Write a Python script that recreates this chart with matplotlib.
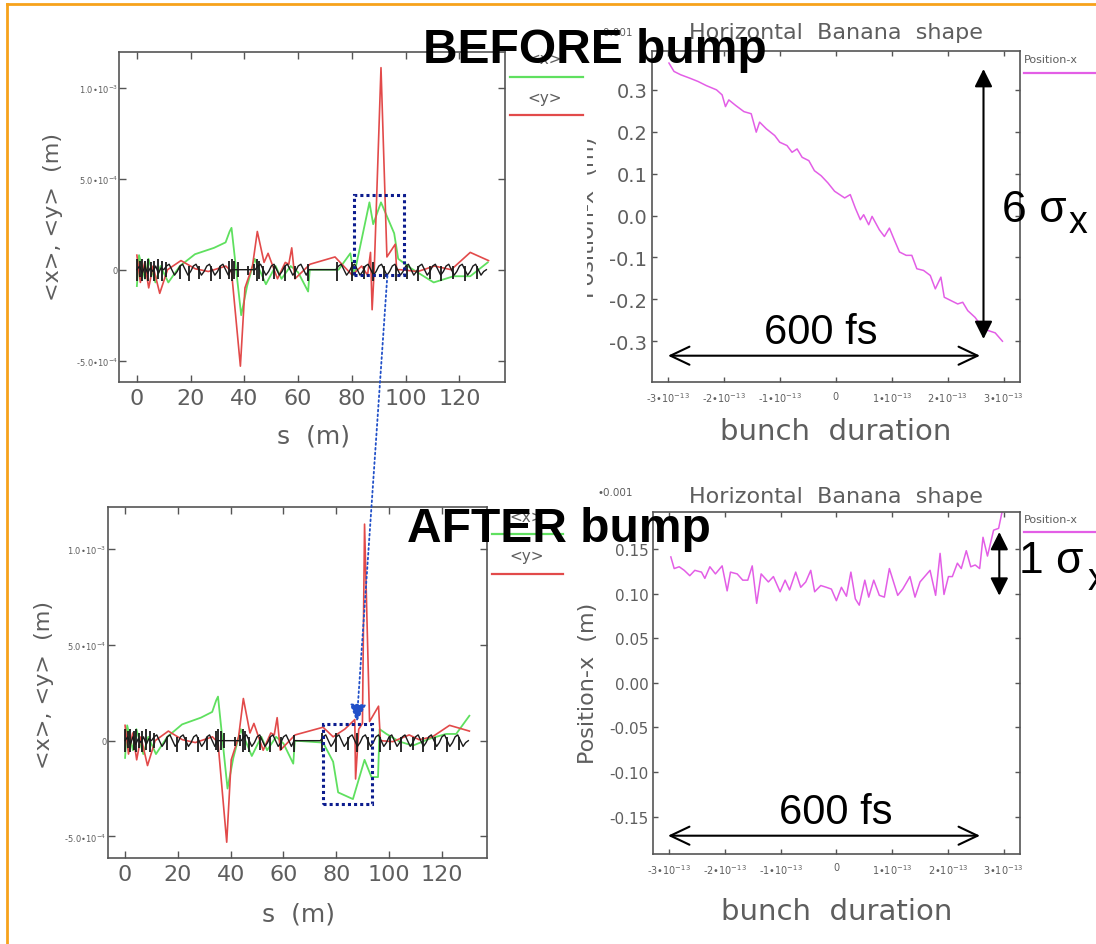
import numpy as np
import matplotlib.pyplot as plt
from matplotlib.lines import Line2D
from matplotlib.patches import Rectangle, FancyArrowPatch

# ---------------- data ----------------
# beam line layout (black trace), s in m, offset in 1e-5 m
lat_s = list(range(0, 131))
lat_y = [0, 2, -2, 2, -2, 1, -1, 2, -2, 1, 0,
         2, 3, 0, -3, -1, 2, 3, 0, -3, -1, 2, 3, 0, -3, -1, 2, 3, 0, -3, -1, 2, 3, 0, -3, 0,
         0, 0, 0, 0, 0, 0, 0, 0, 0,
         2, 3, 0, -3, -1, 2, 3, 0, -3, -1, 2, 3, 0, -3, -1, 2, 3, 0, -3,
         0, 0, 0, 0, 0, 0, 0, 0, 0, 0, 0,
         2, 3, 0, -3, -1, 2, 3, 0, -3, -1, 2, 3, 0, -3, -1, 2, 3, 0, -3, -1,
         2, 3, 0, -3, -1, 2, 3, 0, -3, -1, 2, 3, 0, -3, -1, 2, 3, 0, -3, -1,
         2, 3, 0, -3, -1, 2, 3, 0, -3, -1, 2, 3, 0, -3, -1, 0]
spike_s = [0, 1, 2, 3.2, 4.2, 5.3, 6.5, 8, 9.5, 11, 16, 19.5, 23, 27.5, 31,
           34.3, 35.3, 36.3, 37.5, 41.5, 43.5, 44.5, 45.5, 47, 51, 55, 59, 63.8,
           74.5, 80, 84.5, 88, 92, 96.5, 100.5, 104.5, 109, 113, 117.5, 122, 126.5]
spike_lo = [-6, -4, -6, -5, -6, -4, -6, -5, -6, -4, -5, -6, -5, -6, -5,
            -5, -6, -5, -4, -3, -3, -6, -5, -6, -5, -6, -5, -6,
            -6, -6, -5, -6, -5, -6, -5, -6, -5, -6, -5, -6, -5]
spike_hi = [6, 5, 6, 5, 6, 4, 5, 6, 5, 4, 2, 2, 2, 2, 2,
            5, 6, 5, 4, 2, 3, 6, 5, 2, 2, 2, 2, 3,
            4, 4, 2, 4, 2, 2, 2, 2, 2, 2, 2, 2, 2]

# <x> and <y> before the bump (1e-4 m)
gx_top_s = [0, 0.8, 3.0, 4.3, 6.9, 8.8, 11.7, 16, 21.6, 28.7, 33, 34.5, 35.2, 38.8, 41, 43.8, 48, 51.6,
            53.8, 57.2, 60, 63.7, 64.3, 75, 79.4, 80.8, 86.5, 87.9, 90.8, 95.7, 97.2, 101.7, 110.4,
            117.8, 124, 130.5]
gx_top_v = [-0.9, 0.8, -0.5, 0.6, -0.7, 0.2, -0.7, 0.2, 0.85, 1.2, 1.5, 2.1, 2.3, -2.5, -0.9, 0.6, -0.8, 0.2,
            -0.5, 0.2, -0.15, -1.2, 0.0, 0.0, 0.9, -0.3, 3.7, 2.5, 3.7, 2.0, 0.6, 0.1, -0.7,
            -0.36, -0.36, 0.4]
ry_top_s = [0, 1.3, 2.9, 4.4, 6, 8.5, 11.4, 16.4, 21.7, 26.6, 33.1, 35.2, 38.5, 40.2, 43, 44.8, 47.3, 48.8,
            52.3, 55.2, 56.5, 57.6, 58.8, 64.4, 73.7, 80.1, 83.6, 85.8, 86.9, 87.5, 88.3, 90.8, 93.0,
            96.1, 96.6, 98, 104.5, 110.7, 116.9, 124, 130.8]
ry_top_v = [0.8, -0.7, 0.4, -1.0, 0.2, -1.3, 0.0, 0.5, 0.05, -0.1, 0.2, -0.1, -5.3, -1.0, 0.2, 2.1, 0.4, 0.9,
            -0.5, 0.4, 0.3, 1.2, -0.5, 0.3, 0.7, -0.3, 0.2, -0.3, 0.95, -2.2, 0.05, 11.1, 0.7,
            1.4, 0.0, 0.0, -0.1, 0.2, 0.0, 0.95, 0.5]

# <x> and <y> after the bump (1e-4 m)
gx_bot_s = [0, 0.8, 3.0, 4.3, 6.9, 8.8, 11.7, 16, 21.6, 28.7, 33, 34.5, 35.2, 38.8, 41, 43.8, 48, 51.6,
            53.8, 57.2, 60, 63.7, 64.3, 75, 78.8, 80.7, 86.3, 90.7, 93.3, 95.8, 96.4, 99, 104, 109,
            115.3, 121.6, 125.4, 130.4]
gx_bot_v = [-0.9, 0.8, -0.5, 0.6, -0.7, 0.2, -0.7, 0.2, 0.85, 1.2, 1.5, 2.1, 2.3, -2.5, -0.9, 0.6, -0.8, 0.2,
            -0.5, 0.2, -0.15, -1.2, 0.0, -0.1, -1.1, -2.7, -3.05, -1.0, -1.9, -1.9, 0.6, 0.35, -0.05, -0.26,
            0.1, 0.35, 0.35, 1.3]
ry_bot_s = [0, 1.3, 2.9, 4.4, 6, 8.5, 11.4, 16.4, 21.7, 26.6, 33.1, 35.2, 38.5, 40.2, 43, 44.8, 47.3, 48.8,
            52.3, 55.2, 56.5, 57.6, 58.8, 64.4, 75, 78.8, 83.2, 87.0, 87.3, 88.5, 89.9, 90.7, 92.6, 96.0,
            96.7, 101.4, 107.6, 111.4, 116.4, 122.9, 130.4]
ry_bot_v = [0.8, -0.7, 0.4, -1.0, 0.2, -1.3, 0.0, 0.5, 0.05, -0.1, 0.2, -0.1, -5.3, -1.0, 0.2, 2.2, 0.4, 0.9,
            -0.5, 0.4, 0.3, 1.2, -0.5, 0.3, 0.7, 0.2, 0.6, 1.1, -2.0, 0.6, 0.9, 11.3, 1.0, 1.8,
            0.0, -0.05, 0.3, 0.05, 0.2, 0.8, 0.5]

# banana shape, t in 1e-13 s, position in 1e-3 m
bt_t = [-2.98, -2.89, -2.77, -2.61, -2.46, -2.31, -2.13, -2.03, -1.97, -1.91, -1.79, -1.64, -1.51, -1.42,
        -1.36, -1.24, -1.09, -1.0, -0.87, -0.78, -0.69, -0.60, -0.48, -0.38, -0.26, -0.14, -0.02, 0.07,
        0.16, 0.26, 0.35, 0.44, 0.50, 0.59, 0.65, 0.78, 0.87, 0.96, 1.05, 1.14, 1.26, 1.36, 1.45, 1.57,
        1.69, 1.78, 1.88, 1.94, 2.06, 2.18, 2.27, 2.36, 2.49, 2.58, 2.67, 2.76, 2.85, 2.98]
bt_v = [0.364, 0.344, 0.336, 0.328, 0.320, 0.310, 0.300, 0.288, 0.260, 0.276, 0.263, 0.248, 0.243, 0.199,
        0.223, 0.207, 0.191, 0.175, 0.167, 0.151, 0.159, 0.139, 0.131, 0.107, 0.095, 0.078, 0.058, 0.050,
        0.042, 0.050, 0.018, -0.010, 0.002, -0.022, -0.002, -0.034, -0.050, -0.030, -0.059, -0.087,
        -0.095, -0.095, -0.127, -0.131, -0.143, -0.175, -0.147, -0.195, -0.203, -0.211, -0.207, -0.227,
        -0.243, -0.259, -0.272, -0.276, -0.280, -0.300]
ba_t = [-2.97, -2.91, -2.82, -2.73, -2.63, -2.54, -2.42, -2.36, -2.27, -2.17, -2.05, -1.96, -1.90, -1.78,
        -1.68, -1.59, -1.51, -1.43, -1.35, -1.22, -1.13, -1.01, -0.92, -0.84, -0.73, -0.64, -0.55, -0.46,
        -0.39, -0.28, -0.18, -0.09, 0.0, 0.09, 0.18, 0.26, 0.34, 0.41, 0.51, 0.58, 0.67, 0.77, 0.86, 0.95,
        1.10, 1.19, 1.32, 1.41, 1.50, 1.68, 1.78, 1.86, 1.93, 2.01, 2.08, 2.17, 2.24, 2.33, 2.41, 2.49,
        2.57, 2.63, 2.71, 2.82, 2.91, 3.0]
ba_v = [0.141, 0.128, 0.130, 0.126, 0.120, 0.126, 0.124, 0.117, 0.130, 0.122, 0.131, 0.103, 0.124, 0.122,
        0.115, 0.115, 0.131, 0.089, 0.122, 0.113, 0.119, 0.102, 0.115, 0.104, 0.124, 0.107, 0.113, 0.126,
        0.102, 0.109, 0.107, 0.105, 0.092, 0.107, 0.097, 0.124, 0.094, 0.087, 0.115, 0.096, 0.115, 0.098,
        0.096, 0.128, 0.098, 0.105, 0.119, 0.096, 0.113, 0.126, 0.098, 0.145, 0.099, 0.119, 0.119, 0.134,
        0.128, 0.148, 0.130, 0.132, 0.128, 0.163, 0.142, 0.171, 0.173, 0.200]

s_ticks = [0, 20, 40, 60, 80, 100, 120]
s_ticklabels = ['0', '20', '40', '60', '80', '100', '120']
orbit_yticks = [-5e-4, 0, 5e-4, 1e-3]
orbit_ylabels = ['-5.0•10$^{-4}$', '0', '5.0•10$^{-4}$', '1.0•10$^{-3}$']
t_ticks = [-3, -2, -1, 0, 1, 2, 3]
t_ticklabels = ['-3•10$^{-13}$', '-2•10$^{-13}$', '-1•10$^{-13}$', '0',
                '1•10$^{-13}$', '2•10$^{-13}$', '3•10$^{-13}$']
before_yticks = [-0.3, -0.2, -0.1, 0.0, 0.1, 0.2, 0.3]
before_ylabels = ['-0.3', '-0.2', '-0.1', '0.0', '0.1', '0.2', '0.3']
after_yticks = [-0.15, -0.10, -0.05, 0.0, 0.05, 0.10, 0.15]
after_ylabels = ['-0.15', '-0.10', '-0.05', '0.00', '0.05', '0.10', '0.15']

# ---------------- figure ----------------
W, H = 1096, 945
GRAY = '#555555'
TXT = '#5e5e5e'
GREEN = '#5fe05f'
RED = '#e24a4a'
MAG = '#e35ee6'
BLK = '#1a1a1a'

plt.rcParams['font.family'] = ['DejaVu Sans']
fig = plt.figure(figsize=(W / 100, H / 100), dpi=100)
fig.patch.set_facecolor('white')


def P(x, y):
    return (x / W, 1 - y / H)


def box(l, r, t, b):
    return [l / W, 1 - b / H, (r - l) / W, (b - t) / H]


def frame(ax, ln):
    for sp in ax.spines.values():
        sp.set_color(GRAY)
        sp.set_linewidth(1.2)
    ax.tick_params(direction='in', top=True, right=True, color=GRAY, width=1.0,
                   length=ln, labelcolor=TXT)


def orbit(ax, gs, gv, rs, rv, ylim, xl, yl):
    ax.plot(gs, np.array(gv) * 1e-4, color=GREEN, lw=1.3)
    ax.plot(rs, np.array(rv) * 1e-4, color=RED, lw=1.2)
    ax.plot(lat_s, np.array(lat_y) * 1e-5, color=BLK, lw=1.0)
    ax.vlines(spike_s, np.array(spike_lo) * 1e-5, np.array(spike_hi) * 1e-5, color=BLK, lw=1.3)
    ax.set_xlim(-6.5, 137)
    ax.set_ylim(*ylim)
    frame(ax, 5)
    ax.set_xticks(s_ticks)
    ax.set_xticklabels(s_ticklabels, fontsize=16)
    ax.set_yticks(orbit_yticks)
    ax.set_yticklabels(orbit_ylabels, fontsize=6)
    ax.tick_params(axis='x', pad=4)
    ax.tick_params(axis='y', pad=1)
    ax.set_xlabel('s  (m)', fontsize=18, color=TXT)
    ax.set_ylabel('<x>, <y>  (m)', fontsize=16, color=TXT)
    ax.xaxis.set_label_coords(*xl)
    ax.yaxis.set_label_coords(*yl)


def banana(ax, t, v, ylim, yt, ylab, yfs, xl, yl, ty):
    ax.plot(np.array(t) * 1e-13, v, color=MAG, lw=1.1)
    ax.set_xlim(-3.29e-13, 3.29e-13)
    ax.set_ylim(*ylim)
    frame(ax, 3.6)
    ax.set_xticks(np.array(t_ticks) * 1e-13)
    ax.set_xticklabels(t_ticklabels, fontsize=7)
    ax.set_yticks(yt)
    ax.set_yticklabels(ylab, fontsize=yfs)
    ax.tick_params(axis='x', pad=6)
    ax.tick_params(axis='y', pad=3)
    ax.set_xlabel('bunch  duration', fontsize=21, color=TXT)
    ax.set_ylabel('Position-x  (m)', fontsize=16, color=TXT)
    ax.xaxis.set_label_coords(*xl)
    ax.yaxis.set_label_coords(*yl)
    ax.text(0.5, ty, 'Horizontal  Banana  shape', transform=ax.transAxes, ha='center',
            va='center', fontsize=16, color=TXT)


ax1 = fig.add_axes(box(119.4, 505.2, 53, 383))
orbit(ax1, gx_top_s, gx_top_v, ry_top_s, ry_top_v, (-6.17e-4, 1.196e-3), (0.502, -0.127), (-0.146, 0.503))

ax3 = fig.add_axes(box(107.9, 486.8, 508.3, 859.3))
orbit(ax3, gx_bot_s, gx_bot_v, ry_bot_s, ry_bot_v, (-6.14e-4, 1.218e-3), (0.503, -0.124), (-0.142, 0.497))

ax2 = fig.add_axes(box(651.6, 1019.8, 52.3, 383.3))
banana(ax2, bt_t, bt_v, (-0.398, 0.392), before_yticks, before_ylabels, 14,
       (0.5, -0.105), (-0.146, 0.502), 1.058)

ax4 = fig.add_axes(box(653, 1019.8, 513.3, 855))
banana(ax4, ba_t, ba_v, (-0.1917, 0.191), after_yticks, after_ylabels, 11,
       (0.5, -0.125), (-0.15, 0.503), 1.048)

# left image covers most of the upper y label
fig.add_artist(Rectangle(P(506, 330), 81 / W, 212 / H, transform=fig.transFigure,
                         facecolor='white', edgecolor='none', zorder=1))

# legends (outside the frames)
def legend_line(x0, x1, y, c):
    fig.add_artist(Line2D([x0 / W, x1 / W], [1 - y / H, 1 - y / H], color=c, lw=1.6, zorder=2))


for (cx, ty1, gy, ty2, ry, x0, x1) in [(545, 60, 78, 98, 115.7, 510, 583),
                                       (527, 518, 535, 557, 575, 492, 563)]:
    fig.text(*P(cx, ty1), '<x>', ha='center', va='center', fontsize=11, color=TXT, zorder=2)
    legend_line(x0, x1, gy, GREEN)
    fig.text(*P(cx, ty2), '<y>', ha='center', va='center', fontsize=11, color=TXT, zorder=2)
    legend_line(x0, x1, ry, RED)

for (ty, ly) in [(60, 74), (520, 533)]:
    fig.text(*P(1024, ty), 'Position-x', ha='left', va='center', fontsize=8, color=TXT, zorder=2)
    legend_line(1024, 1100, ly, MAG)
    fig.text(*P(615, ty - 27), '•0.001', ha='center', va='center', fontsize=7.5, color=TXT, zorder=2)

# slide border
ORANGE = '#f7a21b'
fig.add_artist(Line2D([7 / W, 1], [1 - 5 / H, 1 - 5 / H], color=ORANGE, lw=2, zorder=2))
fig.add_artist(Line2D([7 / W, 7 / W], [1 - 5 / H, 0], color=ORANGE, lw=2, zorder=2))

# annotations
bold = dict(family=['Liberation Sans', 'DejaVu Sans'], fontweight='bold', fontsize=34.5,
            color='black', ha='center', va='baseline', zorder=10)
fig.text(*P(595, 63), 'BEFORE bump', **bold)
fig.text(*P(559, 542), 'AFTER bump', **bold)

arial = dict(family=['Liberation Sans', 'DejaVu Sans'], color='black', va='baseline', zorder=10)
fig.text(*P(820.5, 344), '600 fs', ha='center', fontsize=30, **arial)
fig.text(*P(836, 824), '600 fs', ha='center', fontsize=30, **arial)
fig.text(*P(1002, 222), '6 σ', ha='left', fontsize=32, **arial)
fig.text(*P(1069, 233), 'x', ha='left', fontsize=27, **arial)
fig.text(*P(1019, 573), '1 σ', ha='left', fontsize=32, **arial)
fig.text(*P(1088, 590), 'x', ha='left', fontsize=27, **arial)


def arrow(a, b, style, **kw):
    fig.add_artist(FancyArrowPatch(P(*a), P(*b), transform=fig.transFigure, arrowstyle=style,
                                   mutation_scale=10, shrinkA=0, shrinkB=0, zorder=9, **kw))


open_head = '<->,head_length=1.37,head_width=0.65'
filled = '<|-|>,head_length=1.08,head_width=0.54'
arrow((668, 356.7), (980, 356.7), open_head, color='black', lw=1.5)
arrow((668, 836.7), (980, 836.7), open_head, color='black', lw=1.5)
arrow((983.5, 70), (983.5, 340), filled, color='black', lw=1.5)
arrow((999.3, 533), (999.3, 596.7), filled, color='black', lw=1.5)

# dotted boxes and link
NAVY = '#0c1c8e'
for (l, r, t, b) in [(354.3, 404, 196, 276.4), (322.6, 372, 725, 805)]:
    fig.add_artist(Rectangle(P(l, b), (r - l) / W, (b - t) / H, transform=fig.transFigure,
                             fill=False, edgecolor=NAVY, lw=2.2, linestyle=(0, (1, 1)), zorder=8))
arrow((387.3, 277), (356.7, 723), '-|>,head_length=1.08,head_width=0.5',
      color='#2150c8', lw=1.3, linestyle=':')

fig.savefig('out.png', dpi=100, facecolor='white')
